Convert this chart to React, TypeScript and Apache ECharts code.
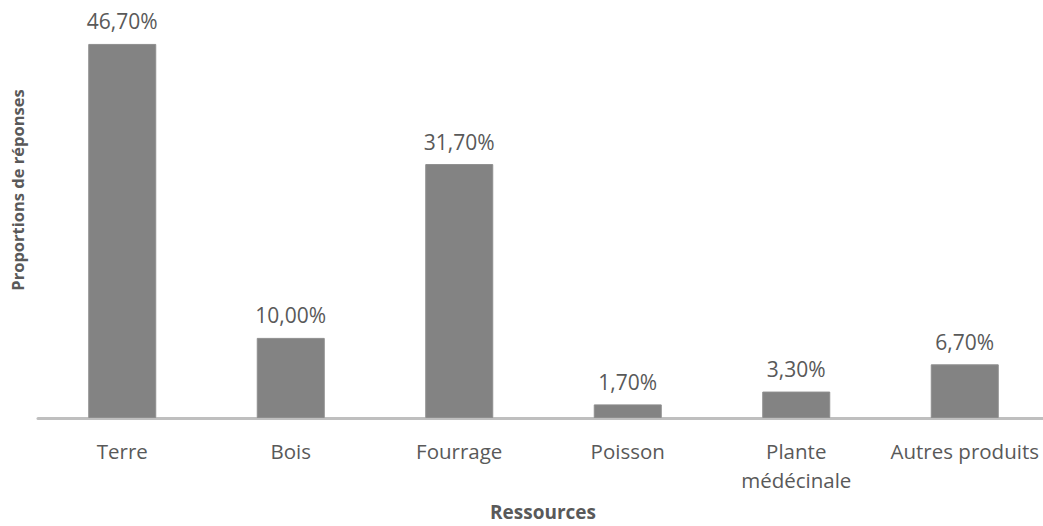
import React, { useEffect, useRef } from "react";
import * as echarts from "echarts";

const categories = ["Terre", "Bois", "Fourrage", "Poisson", "Plante\nmédécinale", "Autres produits"];
const values = [46.7, 10.0, 31.7, 1.7, 3.3, 6.7];
const xTitle = "Ressources";
const yTitle = "Proportions de réponses";

const FONT = "'Open Sans', 'Noto Sans', sans-serif";
const TXT = "#595959";

export default function App() {
  const ref = useRef<HTMLDivElement>(null);
  useEffect(() => {
    if (!ref.current) return;
    const chart = echarts.init(ref.current, undefined, { renderer: "svg" });
    chart.setOption({
      animation: false,
      backgroundColor: "#ffffff",
      grid: { left: 38, right: 0, top: 17.5, bottom: 108, containLabel: false },
      xAxis: {
        type: "category",
        data: categories,
        axisLine: { show: true, lineStyle: { color: "#bfbfbf", width: 3 } },
        axisTick: { show: false },
        axisLabel: {
          interval: 0,
          margin: 18,
          color: TXT,
          fontFamily: FONT,
          fontSize: 20.5,
          lineHeight: 29,
        },
      },
      yAxis: {
        type: "value",
        min: 0,
        max: 50,
        show: false,
        splitLine: { show: false },
      },
      series: [
        {
          type: "bar",
          data: values,
          barWidth: 68,
          itemStyle: { color: "#838383", borderColor: "#8e8e8e", borderWidth: 1 },
          label: {
            show: true,
            position: "top",
            distance: 12,
            color: TXT,
            fontFamily: FONT,
            fontSize: 21,
            formatter: (p: any) => p.value.toFixed(2).replace(".", ",") + "%",
          },
        },
      ],
      graphic: [
        {
          type: "text",
          x: 543,
          y: 512,
          style: {
            text: xTitle,
            fill: TXT,
            font: `bold 19px ${FONT}`,
            textAlign: "center",
            textVerticalAlign: "middle",
          },
        },
        {
          type: "text",
          x: 17,
          y: 190,
          rotation: Math.PI / 2,
          style: {
            text: yTitle,
            fill: TXT,
            font: `bold 16.5px ${FONT}`,
            textAlign: "center",
            textVerticalAlign: "middle",
          },
        },
      ],
    });
    return () => chart.dispose();
  }, []);
  return (
    <div style={{ position: "absolute", left: 0, top: 0, width: 1043, height: 526, overflow: "hidden" }}>
      <div ref={ref} style={{ width: 1049, height: 526 }} />
    </div>
  );
}
